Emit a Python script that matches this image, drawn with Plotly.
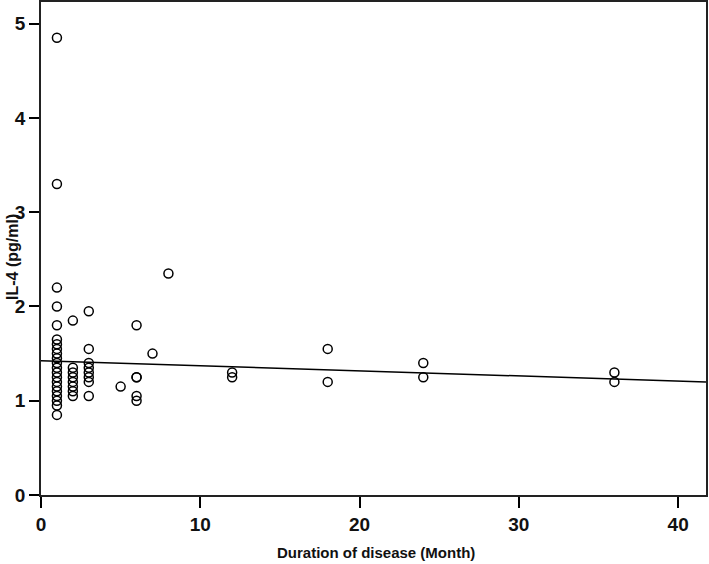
import plotly.graph_objects as go

# Duration of disease (months) and IL-4 (pg/ml) per patient
duration_months = (
    [1] * 21
    + [2] * 8
    + [3] * 8
    + [5]
    + [6] * 5
    + [7]
    + [8]
    + [12] * 2
    + [18] * 2
    + [24] * 2
    + [36] * 2
)
il4_values = (
    [4.85, 3.3, 2.2, 2.0, 1.8, 1.65, 1.6, 1.55, 1.5, 1.45, 1.4, 1.35, 1.3,
     1.25, 1.2, 1.15, 1.1, 1.05, 1.0, 0.95, 0.85]
    + [1.85, 1.35, 1.3, 1.25, 1.2, 1.15, 1.1, 1.05]
    + [1.95, 1.55, 1.4, 1.35, 1.3, 1.25, 1.2, 1.05]
    + [1.15]
    + [1.8, 1.25, 1.25, 1.05, 1.0]
    + [1.5]
    + [2.35]
    + [1.3, 1.25]
    + [1.55, 1.2]
    + [1.4, 1.25]
    + [1.3, 1.2]
)

# Linear fit line
fit_intercept = 1.425
fit_slope = -0.0054
fit_x = [0, 41.75]
fit_y = [fit_intercept + fit_slope * v for v in fit_x]

x_ticks = [0, 10, 20, 30, 40]
y_ticks = [0, 1, 2, 3, 4, 5]

x_title = "Duration of disease (Month)"
y_title = "IL-4 (pg/ml)"

FONT = "Liberation Sans, Arial, sans-serif"

fig = go.Figure()
fig.add_trace(go.Scatter(
    x=fit_x, y=fit_y, mode="lines",
    line=dict(color="black", width=1.5),
    showlegend=False, hoverinfo="skip",
))
fig.add_trace(go.Scatter(
    x=duration_months, y=il4_values, mode="markers",
    marker=dict(symbol="circle-open", size=9, color="black",
                line=dict(width=1.5, color="black")),
    showlegend=False,
))

fig.update_layout(
    width=709, height=564,
    margin=dict(l=41, r=3, t=2, b=69, autoexpand=False),
    paper_bgcolor="white", plot_bgcolor="white",
    font=dict(family=FONT, color="black"),
    xaxis=dict(
        range=[0, 41.75], tickvals=x_ticks, ticks="outside", ticklen=11,
        tickwidth=1.5, tickcolor="black", showgrid=False, zeroline=False,
        showline=True, linecolor="#222", linewidth=1.6, mirror=True,
        automargin=False,
        tickfont=dict(size=19, family=FONT, weight="bold", color="#111"),
    ),
    yaxis=dict(
        range=[0, 5.23], tickvals=y_ticks, ticks="outside", ticklen=10,
        tickwidth=1.5, tickcolor="black", showgrid=False, zeroline=False,
        showline=True, linecolor="#222", linewidth=1.6, mirror=True,
        automargin=False,
        tickfont=dict(size=19, family=FONT, weight="bold", color="#111"),
    ),
    annotations=[
        dict(text=x_title, xref="paper", yref="paper", x=(376 - 41) / 665,
             y=(495 - 552) / 493, showarrow=False, xanchor="center", yanchor="middle",
             font=dict(size=15, family=FONT, weight="bold", color="#111")),
        dict(text=y_title, xref="paper", yref="paper", x=(12 - 41) / 665,
             y=(495 - 257) / 493, showarrow=False, textangle=-90,
             xanchor="center", yanchor="middle",
             font=dict(size=16, family=FONT, weight="bold", color="#111")),
    ],
)

fig.write_html(
    "out.html",
    config={"displayModeBar": False},
    post_script="document.body.style.margin='0';document.body.style.overflow='hidden';",
)
